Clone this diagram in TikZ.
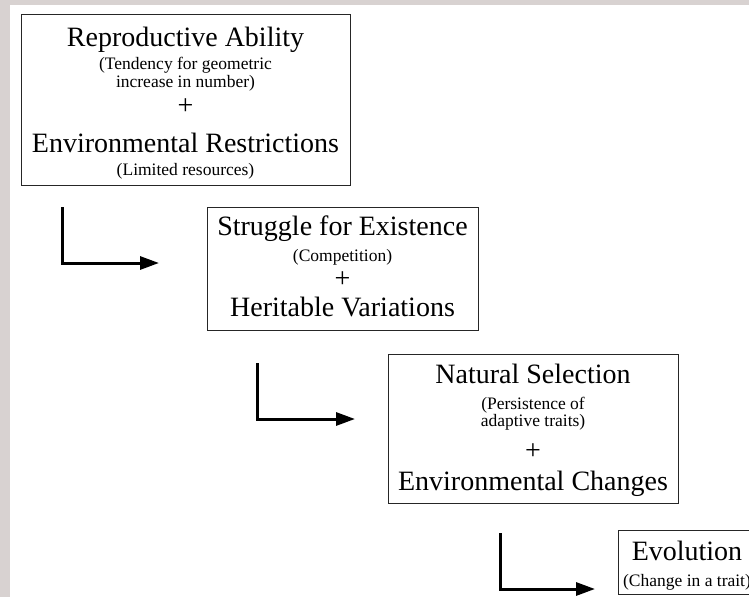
\documentclass[tikz,border=0pt]{standalone}
\usepackage{fontspec}
\setmainfont{Liberation Serif}
\usetikzlibrary{arrows.meta}
\definecolor{marble}{HTML}{D8D2D1}
\tikzset{
  frame/.style={draw=black!85, line width=1.3pt, anchor=north west, inner sep=0pt},
  head/.style={font=\fontsize{28}{30}\selectfont, anchor=base, inner sep=0pt},
  note/.style={font=\fontsize{17.5}{19}\selectfont, anchor=base, inner sep=0pt},
  elbow/.style={line width=3pt, -{Triangle[length=19pt,width=13pt]}}
}
\begin{document}
\begin{tikzpicture}[x=1pt,y=-1pt]
  \useasboundingbox (0,0) rectangle (749,597);
  \clip (0,0) rectangle (749,597);
  \fill[marble] (0,0) rectangle (749,597);
  \fill[white] (10,5) rectangle (749,597);
  \node[frame, minimum width=329pt, minimum height=171pt] (repro) at (21,14) {};
  \node[frame, minimum width=271pt, minimum height=123pt] (struggle) at (207,207) {};
  \node[frame, minimum width=290pt, minimum height=149pt] (natural) at (388,354) {};
  \node[frame, minimum width=138pt, minimum height=64pt] (evol) at (618,530) {};
  \draw
    (185.5,46) node[head] (repro1) {Reproductive Ability}
    (185.5,69) node[note] (repro2) {(Tendency for geometric}
    (185.5,87) node[note] (repro3) {increase in number)}
    (185.5,114) node[head] (repro4) {+}
    (185.5,152) node[head] (repro5) {Environmental Restrictions}
    (185.5,175) node[note] (repro6) {(Limited resources)};
  \draw
    (342.5,235) node[head] (struggle1) {Struggle for Existence}
    (342.5,261) node[note] (struggle2) {(Competition)}
    (342.5,287) node[head] (struggle3) {+}
    (342.5,316) node[head] (struggle4) {Heritable Variations};
  \draw
    (533,383) node[head] (natural1) {Natural Selection}
    (533,409) node[note] (natural2) {(Persistence of}
    (533,426) node[note] (natural3) {adaptive traits)}
    (533,459) node[head] (natural4) {+}
    (533,490) node[head] (natural5) {Environmental Changes};
  \draw
    (687,560) node[head] (evol1) {Evolution}
    (687,586) node[note] (evol2) {(Change in a trait)};
  \coordinate (t1) at (62,207);
  \coordinate (h1) at (159,263);
  \coordinate (t2) at (257,363);
  \coordinate (h2) at (355,419);
  \coordinate (t3) at (500,533);
  \coordinate (h3) at (595,589);
  \begin{scope}[elbow]
    \draw (t1) |- (h1);
    \draw (t2) |- (h2);
    \draw (t3) |- (h3);
  \end{scope}
\end{tikzpicture}
\end{document}
